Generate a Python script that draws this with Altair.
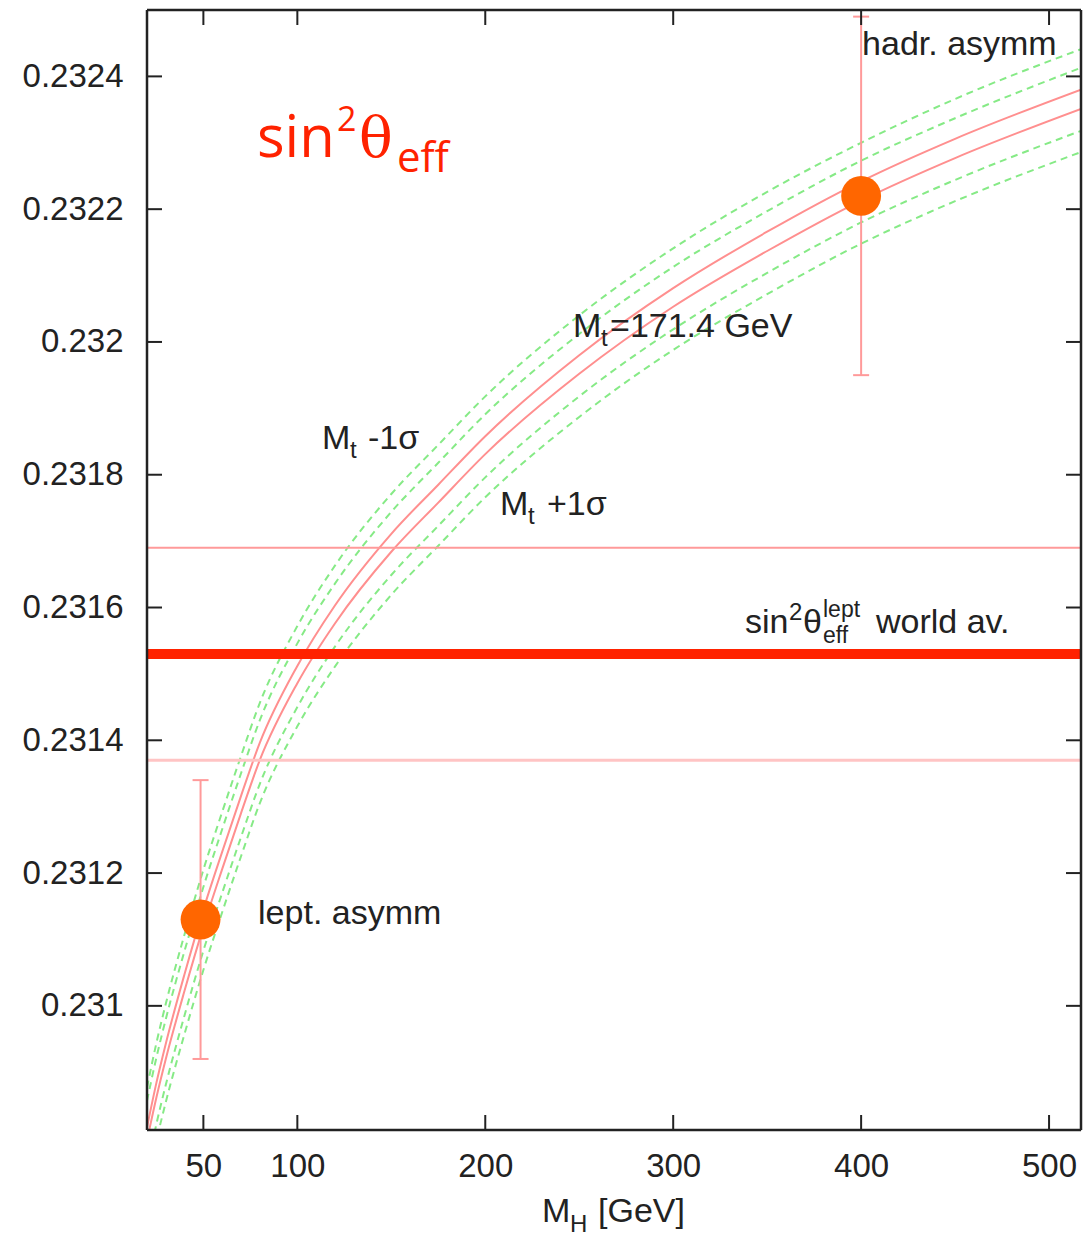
import altair as alt
import pandas as pd

# ---------------- data ----------------
MH = [20, 25, 30, 40, 50, 60, 70, 80, 100, 120, 150, 175, 200, 250, 300, 350, 400, 450, 517]

# central Mt = 171.4 GeV band (two solid red lines)
central_hi = [0.230817, 0.230884, 0.230943, 0.231048, 0.231145, 0.231232, 0.231316, 0.231396,
              0.231512, 0.231603, 0.231711, 0.231785, 0.231858, 0.231980, 0.232081, 0.232166,
              0.232242, 0.232306, 0.232380]
central_lo = [0.230797, 0.230862, 0.230920, 0.231023, 0.231119, 0.231206, 0.231290, 0.231370,
              0.231486, 0.231576, 0.231684, 0.231758, 0.231831, 0.231952, 0.232053, 0.232137,
              0.232213, 0.232277, 0.232351]
# Mt - 1 sigma band (upper dashed green pair)
minus_hi = [0.230877, 0.230944, 0.231003, 0.231108, 0.231205, 0.231292, 0.231376, 0.231456,
            0.231572, 0.231663, 0.231771, 0.231845, 0.231918, 0.232040, 0.232141, 0.232226,
            0.232300, 0.232366, 0.232441]
minus_lo = [0.230857, 0.230922, 0.230980, 0.231083, 0.231179, 0.231266, 0.231350, 0.231430,
            0.231546, 0.231636, 0.231744, 0.231818, 0.231891, 0.232012, 0.232113, 0.232197,
            0.232273, 0.232337, 0.232413]
# Mt + 1 sigma band (lower dashed green pair)
plus_hi = [0.230755, 0.230822, 0.230881, 0.230986, 0.231083, 0.231170, 0.231254, 0.231334,
           0.231450, 0.231541, 0.231649, 0.231723, 0.231796, 0.231918, 0.232019, 0.232104,
           0.232180, 0.232244, 0.232318]
plus_lo = [0.230732, 0.230797, 0.230855, 0.230958, 0.231054, 0.231141, 0.231225, 0.231305,
           0.231421, 0.231511, 0.231619, 0.231693, 0.231766, 0.231887, 0.231988, 0.232072,
           0.232148, 0.232212, 0.232286]

world_av = 0.23153
world_err = 0.00016

meas_name = ["lept. asymm", "hadr. asymm"]
meas_mh = [48.5, 400.0]
meas_val = [0.23113, 0.23222]
meas_err = [0.00021, 0.00027]

X_TICKS = [50, 100, 200, 300, 400, 500]
Y_TICKS = [0.231, 0.2312, 0.2314, 0.2316, 0.2318, 0.232, 0.2322, 0.2324]

# ---------------- layout / style ----------------
W, H = 934, 1120
XS = alt.Scale(domain=[20, 517], nice=False, zero=False)
YS = alt.Scale(domain=[0.230813, 0.2325], nice=False, zero=False)
FONT = "Liberation Sans"
INK = "#222222"

X_AX = alt.Axis(values=X_TICKS, title=None, domain=False, ticks=False, grid=False,
                labelFont=FONT, labelFontSize=33, labelColor=INK, labelPadding=20,
                labelFlush=False, labelOverlap=False)
Y_AX = alt.Axis(values=Y_TICKS, title=None, domain=False, ticks=False, grid=False,
                format=".4~f", labelFont=FONT, labelFontSize=33, labelColor=INK,
                labelPadding=24, labelOverlap=False)


def xe(f):
    return alt.X(f"{f}:Q", scale=XS, axis=X_AX)


def ye(f):
    return alt.Y(f"{f}:Q", scale=YS, axis=Y_AX)


def curves(names, arrays):
    rows = []
    for n, arr in zip(names, arrays):
        for m, v in zip(MH, arr):
            rows.append({"series": n, "MH": m, "val": v})
    return pd.DataFrame(rows)


green_df = curves(["m_hi", "m_lo", "p_hi", "p_lo"], [minus_hi, minus_lo, plus_hi, plus_lo])
red_df = curves(["c_hi", "c_lo"], [central_hi, central_lo])

green = alt.Chart(green_df).mark_line(
    clip=True, color="#86ea86", strokeWidth=2, strokeDash=[7, 5], interpolate="monotone"
).encode(x=xe("MH"), y=ye("val"), detail="series:N")

red = alt.Chart(red_df).mark_line(
    clip=True, color="#ff8f8f", strokeWidth=2, interpolate="monotone"
).encode(x=xe("MH"), y=ye("val"), detail="series:N")

hl_df = pd.DataFrame({"val": [world_av]})
band_hi = alt.Chart(pd.DataFrame({"val": [world_av + world_err]})).mark_rule(
    color="#ff9a9a", strokeWidth=2).encode(y=ye("val"))
band_lo = alt.Chart(pd.DataFrame({"val": [world_av - world_err]})).mark_rule(
    color="#ffc4c4", strokeWidth=3).encode(y=ye("val"))
world = alt.Chart(hl_df).mark_rule(color="#ff2200", strokeWidth=10).encode(y=ye("val"))

meas_df = pd.DataFrame({
    "name": meas_name, "MH": meas_mh, "val": meas_val,
    "lo": [v - e for v, e in zip(meas_val, meas_err)],
    "hi": [v + e for v, e in zip(meas_val, meas_err)],
})
ebar = alt.Chart(meas_df).mark_rule(color="#ff9a9a", strokeWidth=2).encode(
    x=xe("MH"), y=ye("lo"), y2="hi:Q")
cap_lo = alt.Chart(meas_df).mark_rule(color="#ff9a9a", strokeWidth=2, xOffset=-8, x2Offset=8).encode(
    x=xe("MH"), x2="MH:Q", y=ye("lo"))
cap_hi = alt.Chart(meas_df).mark_rule(color="#ff9a9a", strokeWidth=2, xOffset=-8, x2Offset=8).encode(
    x=xe("MH"), x2="MH:Q", y=ye("hi"))
pts = alt.Chart(meas_df).mark_circle(size=1590, opacity=1, color="#ff6600").encode(
    x=xe("MH"), y=ye("val"))

# inward ticks on all four sides
xt = pd.DataFrame({"v": X_TICKS})
yt = pd.DataFrame({"v": Y_TICKS})
TL = 15
tick_b = alt.Chart(xt).mark_rule(color=INK, strokeWidth=2).encode(
    x=xe("v"), y=alt.value(H), y2=alt.value(H - TL))
tick_t = alt.Chart(xt).mark_rule(color=INK, strokeWidth=2).encode(
    x=xe("v"), y=alt.value(0), y2=alt.value(TL))
tick_l = alt.Chart(yt).mark_rule(color=INK, strokeWidth=2).encode(
    y=ye("v"), x=alt.value(0), x2=alt.value(TL))
tick_r = alt.Chart(yt).mark_rule(color=INK, strokeWidth=2).encode(
    y=ye("v"), x=alt.value(W - TL), x2=alt.value(W))

# plot frame
one = pd.DataFrame({"k": [0]})
frame = [
    alt.Chart(one).mark_rule(color=INK, strokeWidth=2.5).encode(
        x=alt.value(0), x2=alt.value(0), y=alt.value(0), y2=alt.value(H)),
    alt.Chart(one).mark_rule(color=INK, strokeWidth=2.5).encode(
        x=alt.value(W), x2=alt.value(W), y=alt.value(0), y2=alt.value(H)),
    alt.Chart(one).mark_rule(color=INK, strokeWidth=2.5).encode(
        x=alt.value(0), x2=alt.value(W), y=alt.value(0), y2=alt.value(0)),
    alt.Chart(one).mark_rule(color=INK, strokeWidth=2.5).encode(
        x=alt.value(0), x2=alt.value(W), y=alt.value(H), y2=alt.value(H)),
]


def txt(text, mh, val, size=34, dx=0, dy=0, color=INK, font=FONT):
    return alt.Chart(pd.DataFrame({"t": [text], "tx": [mh], "ty": [val]})).mark_text(
        align="left", baseline="alphabetic", fontSize=size, dx=dx, dy=dy,
        color=color, font=font
    ).encode(x=xe("tx"), y=ye("ty"), text="t:N")


def ptxt(text, px, py, size=34, color=INK, font=FONT):
    return alt.Chart(pd.DataFrame({"t": [text]})).mark_text(
        align="left", baseline="alphabetic", fontSize=size, color=color, font=font
    ).encode(x=alt.value(px), y=alt.value(py), text="t:N")


RED = "#ff2200"
labels = [
    txt("hadr. asymm", 400.5, 0.232432),
    txt("lept. asymm", 79.1, 0.231123),
    # Mt = 171.4 GeV
    txt("M", 246.7, 0.2320075),
    txt("t", 246.7, 0.2320075, size=24, dx=28, dy=9),
    txt("=171.4 GeV", 246.7, 0.2320075, dx=37),
    # Mt -1 sigma
    txt("M", 113.1, 0.2318388),
    txt("t", 113.1, 0.2318388, size=24, dx=28, dy=9),
    txt("-1σ", 113.1, 0.2318388, dx=46),
    # Mt +1 sigma
    txt("M", 207.8, 0.2317393),
    txt("t", 207.8, 0.2317393, size=24, dx=28, dy=9),
    txt("+1σ", 207.8, 0.2317393, dx=47),
    # world average label
    txt("sin", 338.2, 0.2315616),
    txt("2", 338.2, 0.2315616, size=24, dx=44, dy=-13),
    txt("θ", 338.2, 0.2315616, dx=58),
    txt("lept", 338.2, 0.2315616, size=23, dx=78, dy=-16),
    txt("eff", 338.2, 0.2315616, size=23, dx=78, dy=10),
    txt("world av.", 338.2, 0.2315616, dx=131),
    # big red title
    txt("sin", 78.5, 0.2322786, size=58, color=RED, font="Open Sans"),
    txt("2", 78.5, 0.2322786, size=34, dx=80, dy=-26, color=RED, font="Open Sans"),
    txt("θ", 78.5, 0.2322786, size=56, dx=102, color=RED, font="DejaVu Serif"),
    txt("eff", 78.5, 0.2322786, size=42, dx=140, dy=15, color=RED, font="Open Sans"),
    # x-axis title
    ptxt("M", 395, 1212),
    ptxt("H", 423, 1222, size=24),
    ptxt("[GeV]", 451, 1212),
]

chart = alt.layer(
    green, red, band_hi, band_lo, world, ebar, cap_lo, cap_hi, pts,
    tick_b, tick_t, tick_l, tick_r, *frame, *labels
).properties(
    width=W, height=H,
    autosize=alt.AutoSizeParams(type="none"),
    padding={"left": 147, "top": 10, "right": 10, "bottom": 109},
).configure_view(
    stroke=None
).configure(background="white")

chart.save("out.html", embed_options={"renderer": "svg", "actions": False})
